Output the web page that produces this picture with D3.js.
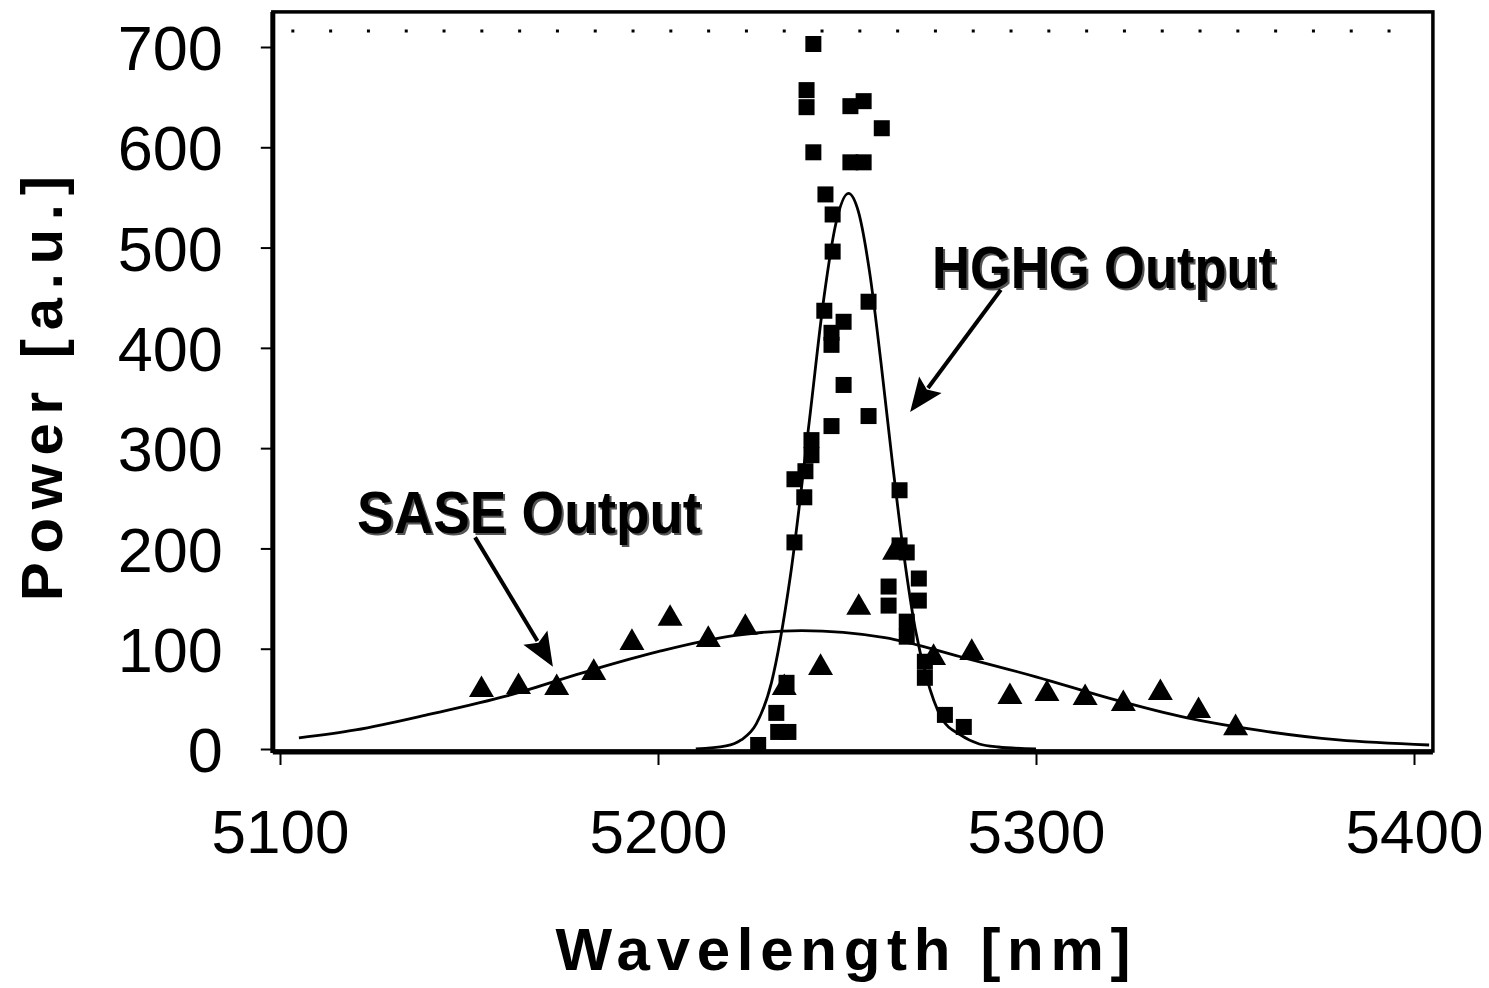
<!DOCTYPE html>
<html>
<head>
<meta charset="utf-8">
<script src="https://cdn.jsdelivr.net/npm/d3@7"></script>
<style>
  html, body { margin: 0; padding: 0; background: #fff; }
  svg { display: block; }
  text { font-family: "Liberation Sans", Arial, Helvetica, sans-serif; fill: #000; }
</style>
</head>
<body>
<svg id="chart" width="1489" height="988"></svg>
<script>
// ---------------- DATA ----------------
const xTicks = [5100, 5200, 5300, 5400];
const yTicks = [0, 100, 200, 300, 400, 500, 600, 700];

// HGHG measured points (squares): wavelength [nm], power [a.u.]
const hghgX = [5241.1, 5239.3, 5239.3, 5250.9, 5254.4, 5259.2, 5241.1, 5250.9, 5254.4, 5244.3,
               5246.2, 5246.2, 5244.0, 5255.7, 5249.1, 5245.9, 5245.9, 5249.1, 5255.7, 5245.9,
               5240.6, 5240.6, 5239.0, 5236.1, 5238.7, 5263.9, 5236.1, 5263.9, 5265.8, 5261.0,
               5261.0, 5269.0, 5269.0, 5265.8, 5265.8, 5270.6, 5270.6, 5275.9, 5280.9, 5234.0,
               5231.3, 5231.8, 5234.5, 5226.5];
const hghgY = [703, 657, 640, 641, 646, 619, 595, 585, 585, 553,
               533, 496, 437, 446, 426, 415, 403, 363, 332, 322,
               308, 293, 277, 269, 251, 258, 206, 203, 196, 162,
               143, 170, 148, 127, 112, 87, 71, 34, 22, 66,
               36, 17, 17, 4];

// SASE measured points (triangles)
const saseX = [5153.3, 5163.1, 5173.2, 5183.0, 5193.1, 5203.2, 5213.3, 5223.1, 5233.4, 5243.0,
               5253.1, 5262.6, 5272.9, 5283.0, 5293.1, 5302.9, 5313.0, 5323.1, 5332.9, 5343.0, 5352.8];
const saseY = [59, 62, 61, 76, 106, 130, 109, 121, 61, 81,
               141, 196, 91, 96, 52, 55, 51, 45, 56, 38, 21];

// Fitted curves
const hghgFitX = [5210, 5218, 5222, 5226, 5230, 5235, 5240, 5244, 5247, 5250.4, 5253, 5256, 5259, 5262, 5265, 5268, 5271, 5275, 5280, 5285, 5290, 5300];
const hghgFitY = [0, 3, 9, 25, 66, 172, 326, 453, 523, 554, 536, 475, 385, 286, 195, 121, 72, 31, 14, 5, 2, 0];

const saseFitX = [5105, 5120, 5140, 5160, 5180, 5200, 5220, 5238, 5260, 5280, 5300, 5320, 5340, 5360, 5380, 5404];
const saseFitY = [11, 19, 35, 53, 76, 97, 113, 118, 111, 92, 72, 50, 31, 18, 9, 4];

// Annotations (data coordinates)
const hghgLabel = { text: "HGHG Output", x: 5272.5, y: 460, ax0: 5290.7, ay0: 458, ax1: 5266.7, ay1: 336 };
const saseLabel = { text: "SASE Output", x: 5120.4, y: 215, ax0: 5151.6, ay0: 211, ax1: 5172.2, ay1: 82 };

// Plot frame extent in data units
const frameX = [5098.1, 5405];
const frameYTop = 735;
const dottedY = 716;

// ---------------- CHART ----------------
const svg = d3.select("#chart");
const x = d3.scaleLinear().domain([5100, 5400]).range([280, 1414]);
const y = d3.scaleLinear().domain([0, 700]).range([749, 47]);

// dotted line near top
svg.append("line")
  .attr("x1", x(5103)).attr("x2", x(5403))
  .attr("y1", y(dottedY)).attr("y2", y(dottedY))
  .attr("stroke", "#000").attr("stroke-width", 3)
  .attr("stroke-dasharray", "3,34.8");

// frame
svg.append("rect")
  .attr("x", x(frameX[0])).attr("y", y(frameYTop))
  .attr("width", x(frameX[1]) - x(frameX[0]))
  .attr("height", y(0) + 2 - y(frameYTop))
  .attr("fill", "none").attr("stroke", "#000").attr("stroke-width", 3.5);
svg.append("line").attr("x1", x(frameX[0])).attr("x2", x(frameX[0]))
  .attr("y1", y(frameYTop)).attr("y2", y(0) + 4)
  .attr("stroke", "#000").attr("stroke-width", 5);
svg.append("line").attr("x1", x(frameX[0])).attr("x2", x(frameX[1]))
  .attr("y1", y(0) + 3).attr("y2", y(0) + 3)
  .attr("stroke", "#000").attr("stroke-width", 5);

// axes via d3
const xAxis = d3.axisBottom(x).tickValues(xTicks).tickSize(12).tickFormat(d3.format("d")).tickPadding(44);
const gx = svg.append("g").attr("transform", `translate(0,${y(0) + 4})`).call(xAxis);
gx.select(".domain").remove();
gx.selectAll(".tick line").attr("stroke", "#000").attr("stroke-width", 2);
gx.selectAll(".tick text")
  .attr("font-size", 62).attr("fill", "#000")
  .attr("font-family", "'Liberation Sans', Arial, sans-serif")
  .attr("dy", "0.71em");

const yAxis = d3.axisLeft(y).tickValues(yTicks).tickSize(12).tickFormat(d3.format("d")).tickPadding(38);
const gy = svg.append("g").attr("transform", `translate(${x(frameX[0])},0)`).call(yAxis);
gy.select(".domain").remove();
gy.selectAll(".tick line").attr("stroke", "#000").attr("stroke-width", 2);
gy.selectAll(".tick text")
  .attr("font-size", 63).attr("fill", "#000")
  .attr("font-family", "'Liberation Sans', Arial, sans-serif")
  .attr("dy", "0.36em");

// axis titles
svg.append("text")
  .attr("transform", `translate(62,${(y(0) + y(frameYTop)) / 2 + 8}) rotate(-90)`)
  .attr("text-anchor", "middle")
  .attr("font-size", 58).attr("font-weight", "bold")
  .attr("textLength", 425).attr("lengthAdjust", "spacing")
  .text("Power [a.u.]");

svg.append("text")
  .attr("x", 843).attr("y", 970)
  .attr("text-anchor", "middle")
  .attr("font-size", 60).attr("font-weight", "bold")
  .attr("textLength", 575).attr("lengthAdjust", "spacing")
  .text("Wavelength [nm]");

// curves
const line = d3.line().x(d => x(d[0])).y(d => y(d[1])).curve(d3.curveMonotoneX);
svg.append("path")
  .datum(saseFitX.map((v, i) => [v, saseFitY[i]]))
  .attr("d", line).attr("fill", "none").attr("stroke", "#000").attr("stroke-width", 2.8);
svg.append("path")
  .datum(hghgFitX.map((v, i) => [v, hghgFitY[i]]))
  .attr("d", line).attr("fill", "none").attr("stroke", "#000").attr("stroke-width", 2.8);

// markers
const sq = 16;
svg.append("g").selectAll("rect")
  .data(hghgX.map((v, i) => [v, hghgY[i]]))
  .join("rect")
  .attr("x", d => x(d[0]) - sq / 2).attr("y", d => y(d[1]) - sq / 2)
  .attr("width", sq).attr("height", sq).attr("fill", "#000");

const tri = d3.symbol().type(d3.symbolTriangle).size(270);
svg.append("g").selectAll("path")
  .data(saseX.map((v, i) => [v, saseY[i]]))
  .join("path")
  .attr("transform", d => `translate(${x(d[0])},${y(d[1])})`)
  .attr("d", tri).attr("fill", "#000");

// annotations
[hghgLabel, saseLabel].forEach(a => {
  svg.append("text")
    .attr("x", x(a.x) + 2).attr("y", y(a.y) + 2)
    .attr("font-size", 60).attr("font-weight", "bold")
    .style("fill", "#555")
    .attr("textLength", 344).attr("lengthAdjust", "spacingAndGlyphs")
    .text(a.text);
  svg.append("text")
    .attr("x", x(a.x)).attr("y", y(a.y))
    .attr("font-size", 60).attr("font-weight", "bold")
    .attr("textLength", 344).attr("lengthAdjust", "spacingAndGlyphs")
    .text(a.text);
  const x0 = x(a.ax0), y0 = y(a.ay0), x1 = x(a.ax1), y1 = y(a.ay1);
  const ang = Math.atan2(y1 - y0, x1 - x0);
  const L = 34, W = 14;
  const bx = x1 - L * Math.cos(ang), by = y1 - L * Math.sin(ang);
  svg.append("line")
    .attr("x1", x0).attr("y1", y0)
    .attr("x2", bx + 4 * Math.cos(ang)).attr("y2", by + 4 * Math.sin(ang))
    .attr("stroke", "#000").attr("stroke-width", 4);
  const pts = [
    [x1, y1],
    [bx + W * Math.sin(ang), by - W * Math.cos(ang)],
    [bx + 6 * Math.cos(ang), by + 6 * Math.sin(ang)],
    [bx - W * Math.sin(ang), by + W * Math.cos(ang)]
  ];
  svg.append("path").attr("d", "M" + pts.map(p => p.join(",")).join("L") + "Z").attr("fill", "#000");
});
</script>
</body>
</html>
